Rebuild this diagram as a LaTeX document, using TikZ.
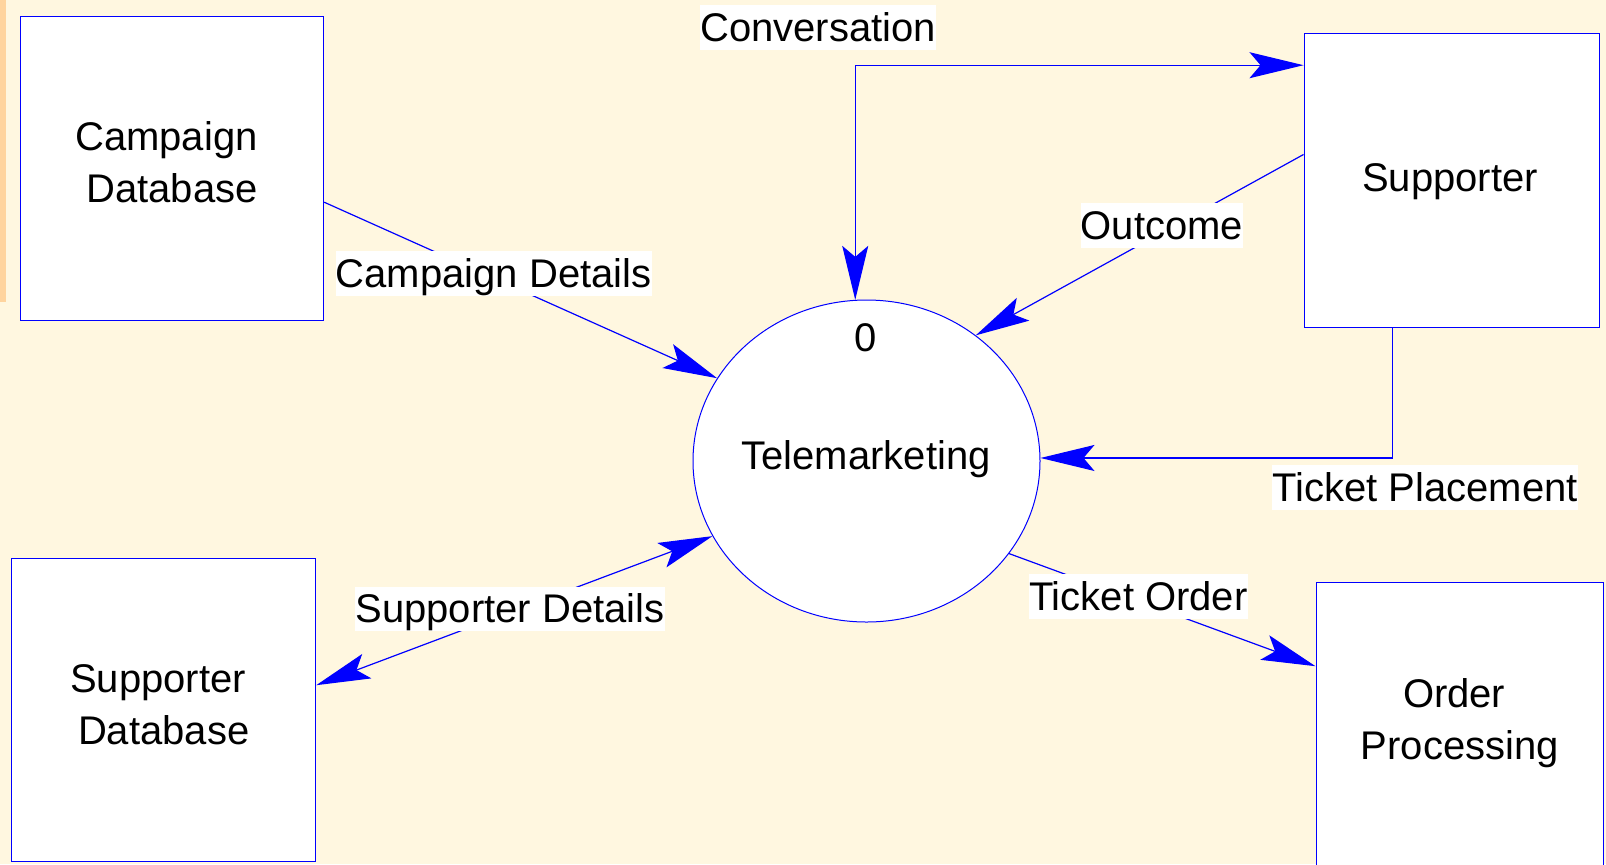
\documentclass[tikz,border=0pt]{standalone}
\usepackage{fontspec}
\setmainfont{Liberation Sans}
\usetikzlibrary{arrows.meta,shapes.geometric,calc}
\definecolor{paper}{HTML}{FFF7E0}
\definecolor{strip}{HTML}{FFD49E}
\definecolor{flow}{HTML}{0000FF}
\begin{document}
\begin{tikzpicture}[x=0.5pt,y=-0.5pt,
  every node/.style={font={\fontsize{20pt}{26pt}\selectfont}},
  >={Stealth[length=27pt,width=13pt,inset=5.5pt]},
  entity/.style={rectangle, draw=flow, line width=0.5pt, fill=white, inner sep=0pt},
  proc/.style={ellipse, draw=flow, line width=0.5pt, fill=white, inner sep=0pt,
    minimum width=173.5pt, minimum height=161pt},
  boxtext/.style={inner sep=0pt, align=center, anchor=north},
  plain/.style={inner sep=0pt, anchor=base},
  flowlabel/.style={fill=white, inner sep=0pt, text height=18.1pt,
    text depth=4.24pt, anchor=base},
  flowline/.style={draw=flow, line width=0.6pt},
]
% page, background and side strip
\path[use as bounding box] (0,0) rectangle (1606,864);
\fill[paper] (0,0) rectangle (1606,864);
\clip (0,0) rectangle (1606,864);
\fill[strip] (0,0) rectangle (6,302);

% external entities and the process
\node[entity, minimum width=151.85pt, minimum height=151.65pt] (cdb) at (171.85,168.35) {};
\node[entity, minimum width=152pt, minimum height=151.5pt] (sdb) at (163.7,709.5) {};
\node[entity, minimum width=147.65pt, minimum height=147.2pt] (sup) at (1451.65,180.5) {};
\node[entity, minimum width=143.65pt, minimum height=142.85pt] (op) at (1459.65,725.15) {};
\node[proc] (tm) at (866.5,461) {};

% their texts
\node[boxtext] (cdbtext) at (172,113.6) {\strut Campaign\kern0.278em\\Database};
\node[boxtext] (sdbtext) at (163.7,655.3) {\strut Supporter\kern0.278em\\Database};
\node[boxtext] (optext) at (1459.7,670.3) {\strut Order\kern0.278em\\Processing};
\node[plain] (suptext) at (1450,191.7) {Supporter};
\node[plain] (tmnum) at (866,351.5) {0};
\node[plain] (tmname) at (866,469) {Telemarketing};

% data flows
\coordinate (convEnd) at ($(sup.north west)+(0,32.4)$);
\draw[flowline,<->] (tm.94.45) |- (convEnd);

\coordinate (outStart) at ($(sup.north west)+(0,121.7)$);
\draw[flowline,->] (outStart) -- (tm.49.7);

\coordinate (tpStart) at ($(sup.south west)+(89.3,0)$);
\draw[flowline,->] (tpStart) |- (tm.1.3);

\coordinate (cdStart) at ($(cdb.north east)+(0,186)$);
\draw[flowline,->] (cdStart) -- (tm.151.7);

\coordinate (sdEnd) at ($(sdb.north east)+(0,127.7)$);
\draw[flowline,<->] (tm.206.8) -- (sdEnd);

\coordinate (toEnd) at ($(op.north west)+(0,84.4)$);
\draw[flowline,->] (tm.327.25) -- (toEnd);

% flow labels
\node[flowlabel] (lconv) at (818,41.2) {Conversation};
\node[flowlabel] (lcd) at (493.7,287.2) {Campaign Details};
\node[flowlabel] (lout) at (1162,239.2) {Outcome};
\node[flowlabel] (ltp) at (1425,501.2) {Ticket Placement};
\node[flowlabel] (lsd) at (510,622.9) {Supporter Details};
\node[flowlabel] (lto) at (1138.3,610.2) {Ticket Order};
\end{tikzpicture}
\end{document}
